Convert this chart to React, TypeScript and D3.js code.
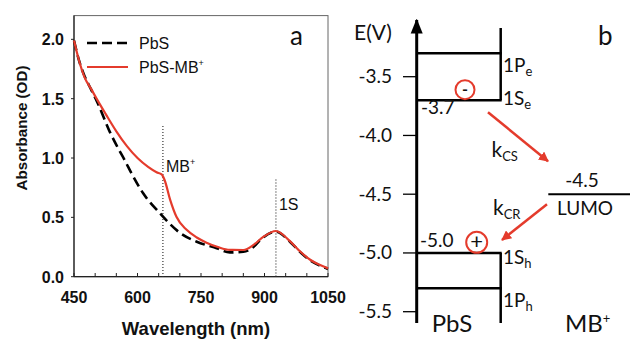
import React from 'react';
import * as d3 from 'd3';

// panel a: absorption spectra
const wavelengths = [450, 462, 475, 490, 505, 525, 550, 575, 600, 625, 645, 657, 664, 677, 692, 716, 740, 763, 790, 818, 850, 875, 897, 927, 960, 985, 1007, 1030, 1050];
const pbsMb = [1.99, 1.82, 1.68, 1.585, 1.49, 1.37, 1.225, 1.10, 1.00, 0.925, 0.88, 0.862, 0.815, 0.65, 0.505, 0.395, 0.33, 0.287, 0.25, 0.226, 0.225, 0.27, 0.335, 0.385, 0.30, 0.21, 0.145, 0.10, 0.07];
const pbsWl = [450, 462, 475, 490, 505, 536, 550, 570, 586, 613, 653, 675, 700, 740, 787, 818, 850, 875, 890, 927, 960, 985, 1007, 1030, 1050];
const pbs = [1.99, 1.82, 1.69, 1.58, 1.47, 1.21, 1.11, 0.98, 0.87, 0.705, 0.534, 0.45, 0.37, 0.295, 0.24, 0.205, 0.21, 0.255, 0.31, 0.38, 0.295, 0.205, 0.14, 0.095, 0.065];
const xTicks = [450, 600, 750, 900, 1050];
const xMinor = d3.range(450, 1051, 50);
const yTicks = [0, 0.5, 1.0, 1.5, 2.0];
const markers = [{ wl: 660, top: 1.27, label: 'MB', sup: '+' }, { wl: 927, top: 0.82, label: '1S', sup: '' }];

// panel b: energy levels
const eTicks = [-3.5, -4.0, -4.5, -5.0, -5.5];
const pbsLevels = [
  { name: '1P', sub: 'e', e: -3.3 },
  { name: '1S', sub: 'e', e: -3.7 },
  { name: '1S', sub: 'h', e: -5.0 },
  { name: '1P', sub: 'h', e: -5.3 },
];
const lumo = -4.5;

const RED = '#e43b2c';

export default function App() {
  const x = d3.scaleLinear().domain([450, 1050]).range([74, 328]);
  const y = d3.scaleLinear().domain([0, 2.2]).range([276.7, 15.6]);
  const line = d3.line<number>().curve(d3.curveMonotoneX);
  const redPath = line(wavelengths.map((w, i) => [x(w), y(pbsMb[i])] as any) as any) as string;
  const blackPath = line(pbsWl.map((w, i) => [x(w), y(pbs[i])] as any) as any) as string;

  const ey = d3.scaleLinear().domain([-3.5, -5.5]).range([76.7, 311.7]);
  const axX = 416.7;
  const boxR = 500.7;
  const eFont = 'Lato, "Open Sans", sans-serif';
  const aFont = '"Liberation Sans", Arial, sans-serif';

  const s1e = ey(-3.7);
  const s1h = ey(-5.0);
  const lumoY = ey(lumo);

  return (
    <svg width={630} height={339} style={{ position: 'fixed', left: 0, top: 0, background: '#fff' }}>
      <defs>
        <marker id="ah" viewBox="0 0 10 10" refX="9" refY="5" markerWidth="4" markerHeight="4" orient="auto">
          <path d="M0,0 L10,5 L0,10 z" fill={RED} />
        </marker>
        <marker id="ak" viewBox="0 0 10 10" refX="9" refY="5" markerWidth="5" markerHeight="5" orient="auto">
          <path d="M0,1 L10,5 L0,9 z" fill="#000" />
        </marker>
      </defs>

      {/* panel a */}
      <rect x={74} y={15.6} width={254} height={261.1} fill="none" stroke="#666" strokeWidth={1} />
      <line x1={74} x2={74} y1={15.6} y2={276.7} stroke="#222" strokeWidth={1.2} />
      <line x1={74} x2={328} y1={276.7} y2={276.7} stroke="#222" strokeWidth={1.2} />
      {xMinor.map(t => (
        <line key={t} x1={x(t)} x2={x(t)} y1={276.7} y2={273} stroke="#222" strokeWidth={1} />
      ))}
      {yTicks.map(t => (
        <g key={t}>
          <line x1={71} x2={74} y1={y(t)} y2={y(t)} stroke="#222" />
          <text x={64} y={y(t) + 6} textAnchor="end" fontFamily={aFont} fontWeight="bold" fontSize={16} fill="#111">{t.toFixed(1)}</text>
        </g>
      ))}
      {xTicks.map(t => (
        <text key={t} x={x(t)} y={303} textAnchor="middle" fontFamily={aFont} fontWeight="bold" fontSize={16} fill="#111">{t}</text>
      ))}
      <text x={196} y={335} textAnchor="middle" fontFamily={aFont} fontWeight="bold" fontSize={18.5} fill="#111">Wavelength (nm)</text>
      <text transform="translate(27,128) rotate(-90)" textAnchor="middle" fontFamily={aFont} fontWeight="bold" fontSize={15.2} fill="#111">Absorbance (OD)</text>

      {markers.map(m => (
        <g key={m.wl}>
          <line x1={x(m.wl)} x2={x(m.wl)} y1={y(m.top)} y2={276.7} stroke="#333" strokeWidth={1.2} strokeDasharray="1,2" />
          <text x={x(m.wl) + 3} y={m.sup ? 171.7 : 210} fontFamily={aFont} fontSize={16} fill="#111">
            {m.label}
            {m.sup && <tspan dy={-7} fontSize={9}>{m.sup}</tspan>}
          </text>
        </g>
      ))}

      <path d={blackPath} fill="none" stroke="#000" strokeWidth={2.6} strokeDasharray="10,5" />
      <path d={redPath} fill="none" stroke={RED} strokeWidth={2.2} />

      {/* legend */}
      <line x1={87} x2={128} y1={43} y2={43} stroke="#000" strokeWidth={2.6} strokeDasharray="10,5" />
      <text x={139} y={49} fontFamily={aFont} fontSize={16} fill="#111">PbS</text>
      <line x1={87} x2={128} y1={67} y2={67} stroke={RED} strokeWidth={2.2} />
      <text x={139} y={73} fontFamily={aFont} fontSize={16} fill="#111">
        PbS-MB<tspan dy={-7} fontSize={9}>+</tspan>
      </text>
      <text x={290} y={45} fontFamily={eFont} fontSize={26} fill="#111">a</text>

      {/* panel b */}
      <line x1={axX} x2={axX} y1={323} y2={20} stroke="#000" strokeWidth={3} markerEnd="url(#ak)" />
      <text x={354} y={40} fontFamily={eFont} fontSize={21} fill="#111">E(V)</text>
      {eTicks.map(t => (
        <g key={t}>
          <line x1={403} x2={axX} y1={ey(t)} y2={ey(t)} stroke="#000" strokeWidth={1.3} />
          <text x={392} y={ey(t) + 6.5} textAnchor="end" fontFamily={eFont} fontSize={19} fill="#111">{t.toFixed(1)}</text>
        </g>
      ))}
      <text x={598} y={45} fontFamily={eFont} fontSize={26} fill="#111">b</text>

      {/* box walls */}
      <line x1={boxR} x2={boxR} y1={28} y2={s1e} stroke="#000" strokeWidth={2.5} />
      <line x1={boxR} x2={boxR} y1={s1h} y2={323} stroke="#000" strokeWidth={2.5} />
      {pbsLevels.map((l, i) => (
        <g key={i}>
          <line x1={axX} x2={boxR + 1} y1={ey(l.e)} y2={ey(l.e)} stroke="#000" strokeWidth={2.5} />
          <text x={503} y={ey(l.e) + (l.name === '1P' ? 19 : (l.sub === 'e' ? 5 : 11))} fontFamily={eFont} fontSize={19} fill="#111">
            {l.name}
            <tspan dy={4} fontSize={13}>{l.sub}</tspan>
          </text>
        </g>
      ))}
      <text x={421} y={s1e + 13.5} fontFamily={eFont} fontSize={19} fill="#111">-3.7</text>
      <text x={420} y={s1h - 6} fontFamily={eFont} fontSize={19} fill="#111">-5.0</text>

      {/* charges */}
      <circle cx={465} cy={s1e - 10.5} r={9.5} fill="none" stroke={RED} strokeWidth={2} />
      <text x={465} y={s1e - 5} textAnchor="middle" fontFamily={eFont} fontSize={16} fontWeight="bold" fill="#111">-</text>
      <circle cx={476.7} cy={s1h - 10.6} r={10.5} fill="none" stroke={RED} strokeWidth={2} />
      <text x={476.7} y={s1h - 3.5} textAnchor="middle" fontFamily={eFont} fontSize={22} fill="#111">+</text>

      {/* MB+ LUMO */}
      <line x1={548.3} x2={630} y1={lumoY} y2={lumoY} stroke="#000" strokeWidth={2} />
      <text x={582} y={lumoY - 7.5} textAnchor="middle" fontFamily={eFont} fontSize={19} fill="#111">-4.5</text>
      <text x={585} y={lumoY + 20.7} textAnchor="middle" fontFamily={eFont} fontSize={19} fill="#111">LUMO</text>

      {/* transfer arrows */}
      <line x1={488} x2={548} y1={s1e + 12} y2={lumoY - 33} stroke={RED} strokeWidth={2.5} markerEnd="url(#ah)" />
      <line x1={547} x2={502} y1={lumoY + 10} y2={s1h - 13} stroke={RED} strokeWidth={2.5} markerEnd="url(#ah)" />
      <text x={491.5} y={157} fontFamily={eFont} fontSize={21} fill="#111">
        k<tspan dy={4} fontSize={13}>CS</tspan>
      </text>
      <text x={493} y={215} fontFamily={eFont} fontSize={21} fill="#111">
        k<tspan dy={4} fontSize={13}>CR</tspan>
      </text>

      <text x={452} y={331.7} textAnchor="middle" fontFamily={eFont} fontSize={24} fill="#111">PbS</text>
      <text x={565} y={331.7} fontFamily={eFont} fontSize={24} fill="#111">
        MB<tspan dy={-9} fontSize={13}>+</tspan>
      </text>
    </svg>
  );
}
